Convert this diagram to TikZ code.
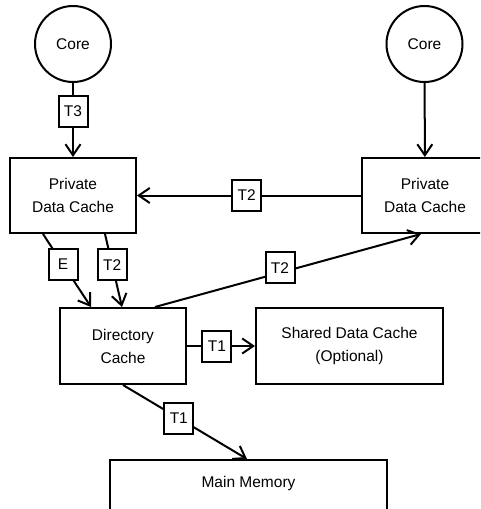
\documentclass[tikz,border=0pt]{standalone}
\usepackage{fontspec}
\setmainfont{Liberation Sans}
\usetikzlibrary{arrows.meta,calc}
\begin{document}
\begin{tikzpicture}[x=1pt,y=-1pt,
  every node/.style={font=\fontsize{15.5}{23}\selectfont, align=center},
  unit/.style={draw, line width=2pt, inner sep=0pt, fill=white},
  corenode/.style={unit, circle, minimum size=76pt},
  cachebox/.style={unit, rectangle, minimum width=126pt, minimum height=75pt},
  tag/.style={unit, rectangle, minimum width=29pt, minimum height=31pt},
  link/.style={line width=2pt, -{Straight Barb[length=11pt,width=15pt]}},
  plain/.style={line width=2pt}]
\useasboundingbox (0,0) rectangle (480,509);
\clip (0,0) rectangle (480,509);

% processor cores
\node[corenode] (coreL) at (73,44) {Core};
\node[corenode] (coreR) at (424.5,44) {Core};

% private caches
\node[cachebox] (pdcL) at (73,195.5) {Private\\Data Cache};
\node[cachebox] (pdcR) at (425,195.5) {Private\\Data Cache};

% shared level
\node[cachebox, minimum height=76pt] (dir) at (123,346) {Directory\\Cache};
\node[cachebox, minimum width=187pt, minimum height=76pt] (shared) at (349.5,346) {Shared Data Cache\\(Optional)};

% main memory, running off the lower edge
\node[unit, rectangle, minimum width=277pt, minimum height=64pt, anchor=north] (mem) at (248.5,459) {};
\node (memtext) at (248.5,483) {Main Memory};

% transfers
\draw[link] (coreL) -- node[tag, pos=0.38] {T3} (pdcL);
\draw[link] (coreR) -- (pdcR);
\draw[link] (pdcR.west) -- node[tag, pos=0.51] {T2} (pdcL.east);
\draw[link] ([xshift=-30pt]pdcL.south) -- node[tag, pos=0.42] {E} ([xshift=-32pt]dir.north);
\draw[link] ([xshift=32pt]pdcL.south) -- node[tag, pos=0.42] {T2} ([xshift=-1pt]dir.north);
\draw[link] ([xshift=32pt]dir.north) -- node[tag, pos=0.47, yshift=5pt] {T2} ([xshift=-4pt]pdcR.south);
\draw[link] (dir.east) -- node[tag, pos=0.44] {T1} (shared.west);
\draw[link] (dir.south) -- node[tag, pos=0.45] {T1} ([xshift=-1.5pt]mem.north);
\end{tikzpicture}
\end{document}
